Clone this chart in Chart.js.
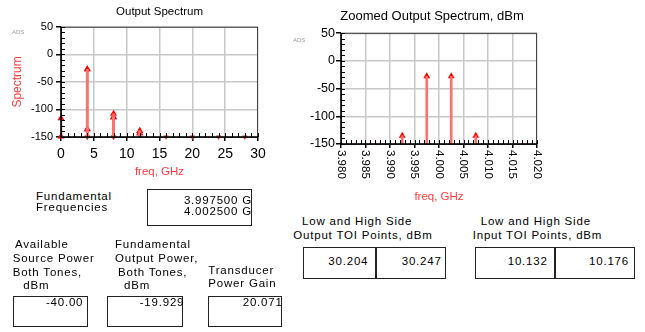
<!DOCTYPE html>
<html>
<head>
<meta charset="utf-8">
<title>Two-tone spectrum</title>
<script src="https://cdn.jsdelivr.net/npm/chart.js@4.4.1/dist/chart.umd.min.js"></script>
<style>
  body { margin: 0; width: 645px; height: 332px; position: relative; overflow: hidden; background: #fff;
         font-family: "Liberation Sans", Arial, sans-serif; color: #000; }
  canvas { position: absolute; }
  .t { position: absolute; font-size: 11.5px; line-height: 13px; letter-spacing: .8px; white-space: pre; }
  .box { position: absolute; border: 1px solid #222; box-sizing: border-box; }
  .ads { position: absolute; font-size: 6px; color: #999; }
</style>
</head>
<body>
<canvas id="fullChart" width="280" height="185" style="left:0;top:0"></canvas>
<canvas id="zoomChart" width="304" height="208" style="left:280px;top:0"></canvas>
<div class="ads" style="left:12px;top:29px">ADS</div>
<div class="ads" style="left:293px;top:37px">ADS</div>

<div class="t" style="left:36px;top:189.5px">Fundamental</div>
<div class="t" style="left:36px;top:201.2px">Frequencies</div>
<div class="box" style="left:147px;top:189px;width:105px;height:37px"></div>
<div class="t" style="right:393px;top:193.8px">3.997500 G</div>
<div class="t" style="right:393px;top:204.8px">4.002500 G</div>

<div class="t" style="left:15px;top:237.8px">Available</div>
<div class="t" style="left:12.7px;top:252.2px">Source Power</div>
<div class="t" style="left:12.7px;top:265.5px">Both Tones,</div>
<div class="t" style="left:23.3px;top:278.8px">dBm</div>
<div class="box" style="left:13px;top:296px;width:75px;height:31px"></div>
<div class="t" style="right:561.7px;top:296.2px">-40.00</div>

<div class="t" style="left:115px;top:237.8px">Fundamental</div>
<div class="t" style="left:115px;top:252.2px">Output Power,</div>
<div class="t" style="left:118px;top:265.5px">Both Tones,</div>
<div class="t" style="left:124px;top:278.8px">dBm</div>
<div class="box" style="left:107px;top:296px;width:76px;height:31px"></div>
<div class="t" style="right:460.7px;top:296.2px">-19.929</div>

<div class="t" style="left:208.3px;top:263.5px">Transducer</div>
<div class="t" style="left:208.3px;top:276.8px">Power Gain</div>
<div class="box" style="left:208px;top:296px;width:74px;height:31px"></div>
<div class="t" style="right:362.3px;top:296.2px">20.071</div>

<div class="t" style="left:302px;top:214.5px">Low and High Side</div>
<div class="t" style="left:293.3px;top:228.5px">Output TOI Points, dBm</div>
<div class="box" style="left:303px;top:247px;width:143px;height:32px"></div>
<div class="box" style="left:375px;top:247px;width:1px;height:32px"></div>
<div class="t" style="right:276.7px;top:255.2px">30.204</div>
<div class="t" style="right:203.3px;top:255.2px">30.247</div>

<div class="t" style="left:480.7px;top:214.5px">Low and High Side</div>
<div class="t" style="left:472.7px;top:228.5px">Input TOI Points, dBm</div>
<div class="box" style="left:475px;top:247px;width:160px;height:32px"></div>
<div class="box" style="left:554px;top:247px;width:1px;height:32px"></div>
<div class="t" style="right:97.3px;top:255.2px">10.132</div>
<div class="t" style="right:16px;top:255.2px">10.176</div>

<script>
'use strict';

// full span, GHz / dBm
const fullFreq = [0, 0.005, 3.9925, 3.9975, 4.0025, 4.0075, 7.995, 8.0, 8.005, 11.9925, 11.9975, 12.0025, 12.0075];
const fullPower = [-116, -149, -136, -27, -27, -136, -114, -108, -114, -143, -139, -139, -143];
// products that fall below the -150 floor
const fullFloorFreq = [3.9875, 4.0125, 7.99, 8.01, 16, 20, 24, 28];
const fullXTicks = [0, 5, 10, 15, 20, 25, 30];

// zoomed around the two tones
const zoomFreq = [3.9925, 3.9975, 4.0025, 4.0075];
const zoomPower = [-135, -28, -28, -135];
const zoomFloorFreq = [3.9825, 3.9875, 4.0125, 4.0175];
const zoomXTicks = [3.980, 3.985, 3.990, 3.995, 4.000, 4.005, 4.010, 4.015, 4.020];

const dbTicks = [-150, -100, -50, 0, 50];
const dbFloor = -150;

const stemColor = '#ff7070';
const tipColor = '#ff0000';
const labelRed = '#ff3b3b';
const gridColor = '#c8c8c8';

Chart.defaults.font.family = '"Liberation Sans", Arial, sans-serif';
Chart.defaults.color = '#000';

function stems(freq, power) {
  return freq.map((f, i) => ({ x: f, y: [dbFloor, power[i]] }));
}
function tips(freq, power) {
  return freq.map((f, i) => ({ x: f, y: power[i] }));
}

// plot frame plus the small inside ticks ADS draws
const adsFrame = {
  id: 'adsFrame',
  afterDraw(chart, args, opts) {
    const { ctx, chartArea: a, scales: { x, y } } = chart;
    ctx.save();
    ctx.strokeStyle = '#444';
    ctx.lineWidth = 1;
    ctx.strokeRect(a.left + 0.5, a.top + 0.5, a.right - a.left - 1, a.bottom - a.top);
    ctx.strokeStyle = '#000';
    ctx.lineWidth = 1.5;
    ctx.beginPath();
    ctx.moveTo(a.left, a.top);
    ctx.lineTo(a.left, a.bottom);
    ctx.lineTo(a.right, a.bottom);
    ctx.stroke();

    ctx.lineWidth = 1;
    ctx.beginPath();
    let n = Math.round((y.max - y.min) / opts.yStep);
    for (let i = 0; i <= n; i++) {
      const py = Math.round(y.getPixelForValue(y.min + i * opts.yStep)) + 0.5;
      ctx.moveTo(a.left, py);
      ctx.lineTo(a.left + 4, py);
    }
    n = Math.round((x.max - x.min) / opts.xStep);
    for (let i = 0; i <= n; i++) {
      const px = Math.round(x.getPixelForValue(x.min + i * opts.xStep)) + 0.5;
      ctx.moveTo(px, a.bottom);
      ctx.lineTo(px, a.bottom - 4);
    }
    ctx.stroke();
    ctx.restore();
  }
};

// zoomed x labels read top to bottom
const tiltedTicks = {
  id: 'tiltedTicks',
  afterDraw(chart) {
    const { ctx, scales: { x } } = chart;
    ctx.save();
    ctx.font = '11.5px "Liberation Sans", Arial, sans-serif';
    ctx.fillStyle = '#000';
    ctx.textAlign = 'left';
    ctx.textBaseline = 'middle';
    zoomXTicks.forEach(v => {
      ctx.save();
      ctx.translate(x.getPixelForValue(v), x.top + 6);
      ctx.rotate(Math.PI / 2);
      ctx.fillText(v.toFixed(3), 0, 0);
      ctx.restore();
    });
    ctx.restore();
  }
};

function spectrumDatasets(freq, power, floorFreq, floorStyle) {
  return [
    {
      data: stems(freq, power),
      backgroundColor: stemColor,
      barThickness: 2,
      borderWidth: 0
    },
    {
      type: 'scatter',
      data: tips(freq, power),
      pointStyle: 'triangle',
      radius: 4,
      backgroundColor: tipColor,
      borderWidth: 0,
      clip: false
    },
    Object.assign({
      type: 'scatter',
      data: floorFreq.map(f => ({ x: f, y: dbFloor })),
      clip: false
    }, floorStyle)
  ];
}

function dbAxis(width, fontSize, pad, title) {
  return {
    min: -150,
    max: 50,
    afterBuildTicks: s => { s.ticks = dbTicks.map(v => ({ value: v })); },
    afterFit: s => { s.width = width; },
    grid: { color: gridColor, lineWidth: 1.5, tickLength: 5, tickColor: '#000' },
    border: { display: false },
    ticks: { font: { size: fontSize }, color: '#000', padding: pad },
    title: title
  };
}

new Chart(document.getElementById('fullChart'), {
  type: 'bar',
  data: {
    datasets: spectrumDatasets(fullFreq, fullPower, fullFloorFreq, {
      pointStyle: 'triangle', rotation: 180, radius: 3, backgroundColor: '#ff2020', borderWidth: 0
    })
  },
  options: {
    responsive: false,
    animation: false,
    devicePixelRatio: 1,
    layout: { padding: { right: 22 } },
    plugins: {
      legend: { display: false },
      tooltip: { enabled: false },
      title: {
        display: true,
        text: 'Output Spectrum',
        fullSize: false,
        color: '#000',
        font: { size: 11.5, weight: 'normal' },
        padding: { top: 5, bottom: 8 }
      },
      adsFrame: { xStep: 1, yStep: 10 }
    },
    scales: {
      x: {
        type: 'linear',
        min: 0,
        max: 30,
        offset: false,
        afterBuildTicks: s => { s.ticks = fullXTicks.map(v => ({ value: v })); },
        afterFit: s => { s.height = 48; },
        grid: { color: gridColor, lineWidth: 1.5, offset: false, tickLength: 4, tickColor: '#000' },
        border: { display: false },
        ticks: { font: { size: 14 }, color: '#000', padding: 5, maxRotation: 0 },
        title: { display: true, text: 'freq, GHz', color: labelRed, font: { size: 11.5 }, padding: { top: 0, bottom: 6 } }
      },
      y: dbAxis(61, 11, 3, { display: true, text: 'Spectrum', color: labelRed, font: { size: 12 }, padding: { top: 10, bottom: 0 } })
    }
  },
  plugins: [adsFrame]
});

new Chart(document.getElementById('zoomChart'), {
  type: 'bar',
  data: {
    datasets: spectrumDatasets(zoomFreq, zoomPower, zoomFloorFreq, {
      pointStyle: 'crossRot', radius: 2, borderColor: '#ff9a9a', borderWidth: 1
    })
  },
  options: {
    responsive: false,
    animation: false,
    devicePixelRatio: 1,
    plugins: {
      legend: { display: false },
      tooltip: { enabled: false },
      title: {
        display: true,
        text: 'Zoomed Output Spectrum, dBm',
        color: '#000',
        font: { size: 13, weight: 'normal' },
        padding: { top: 8.5, bottom: 9 }
      },
      adsFrame: { xStep: 0.001, yStep: 10 }
    },
    scales: {
      x: {
        type: 'linear',
        min: 3.98,
        max: 4.02,
        offset: false,
        afterBuildTicks: s => { s.ticks = zoomXTicks.map(v => ({ value: v })); },
        afterFit: s => { s.height = 64; },
        grid: { color: gridColor, lineWidth: 1.5, offset: false, tickLength: 4, tickColor: '#000' },
        border: { display: false },
        ticks: { display: false },
        title: { display: true, text: 'freq, GHz', color: labelRed, font: { size: 11.5 }, padding: { top: 0, bottom: 4 } }
      },
      y: dbAxis(61, 12.5, 1, { display: false }),
      // empty strip on the right so the title centres where ADS put it
      side: {
        position: 'right',
        afterFit: s => { s.width = 47; },
        grid: { display: false },
        border: { display: false },
        ticks: { display: false }
      }
    }
  },
  plugins: [adsFrame, tiltedTicks]
});
</script>
</body>
</html>
